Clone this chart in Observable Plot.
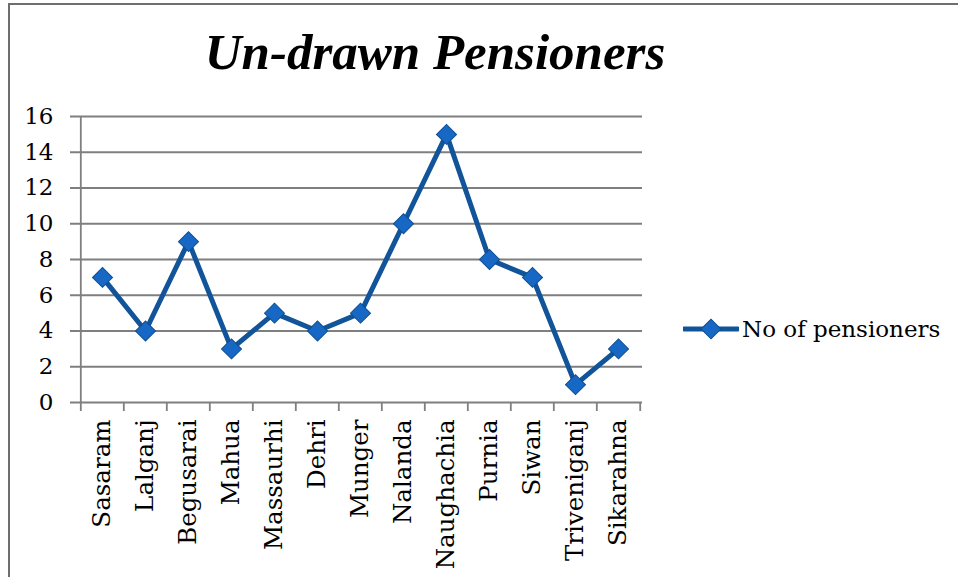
<!DOCTYPE html>
<html><head><meta charset="utf-8">
<script src="https://cdn.jsdelivr.net/npm/d3@7"></script>
<script src="https://cdn.jsdelivr.net/npm/@observablehq/plot@0.6"></script>
<style>
body{margin:0;background:#fff;}
#wrap{position:relative;width:958px;height:577px;overflow:hidden;background:#fff;}
#frame{position:absolute;left:8px;top:3px;right:-6px;bottom:-6px;border-left:2px solid #6e6e6e;border-top:2px solid #6e6e6e;}
#title{position:absolute;left:0;top:22px;width:870px;text-align:center;font:italic bold 51px "Liberation Serif",serif;color:#000;line-height:60px;}
#chart{position:absolute;left:0;top:100px;}
#legend{position:absolute;left:683px;top:316px;display:flex;align-items:center;font:23px "DejaVu Serif",serif;color:#000;}
#legend svg{display:block;margin-right:3px;}
</style></head>
<body>
<div id="wrap">
  <div id="frame"></div>
  <div id="title">Un-drawn Pensioners</div>
  <div id="chart"></div>
  <div id="legend"></div>
</div>
<script>
const categories = ["Sasaram","Lalganj","Begusarai","Mahua","Massaurhi","Dehri","Munger","Nalanda","Naughachia","Purnia","Siwan","Triveniganj","Sikarahna"];
const pensioners = [7,4,9,3,5,4,5,10,15,8,7,1,3];
const yTicks = [0,2,4,6,8,10,12,14,16];
const seriesName = "No of pensioners";

const lineColor = "#11549a";
const markFill = "#1668c4";
const markStroke = "#0f4e92";
const gridColor = "#7f7f7f";

const data = categories.map((c, i) => ({district: c, value: pensioners[i]}));

const W = 958, H = 477, mL = 78, mR = 316;
const step = (W - mL - mR) / categories.length;

const chart = Plot.plot({
  width: W, height: H,
  marginTop: 16, marginBottom: 175, marginLeft: mL, marginRight: mR,
  style: {fontFamily: "DejaVu Serif", fontSize: "23px", color: "#000", background: "transparent", overflow: "visible"},
  x: {type: "point", domain: categories, padding: 0.5, align: 0.5, axis: null},
  y: {domain: [0, 16], axis: null},
  marks: [
    Plot.ruleY(yTicks, {stroke: gridColor, strokeWidth: 1.8, insetLeft: -8}),
    Plot.ruleX([categories[0]], {dx: -step / 2, stroke: gridColor, strokeWidth: 1.8}),
    Plot.axisY({ticks: yTicks, tickSize: 0, tickPadding: 25, fontSize: 23, color: "#000", label: null}),
    Plot.axisX({tickSize: 9, tickFormat: () => "", dx: -step / 2, stroke: gridColor, strokeWidth: 1.8, label: null}),
    Plot.axisX([categories[categories.length - 1]], {tickSize: 9, tickFormat: () => "", dx: step / 2, stroke: gridColor, strokeWidth: 1.8, label: null}),
    Plot.axisX({tickSize: 0, tickPadding: 17, tickRotate: -90, fontSize: 24.5, color: "#000", label: null}),
    Plot.line(data, {x: "district", y: "value", stroke: lineColor, strokeWidth: 5, strokeLinejoin: "round"}),
    Plot.dot(data, {x: "district", y: "value", symbol: "square", r: 8, rotate: 45, fill: markFill, stroke: markStroke, strokeWidth: 1})
  ]
});
document.getElementById("chart").appendChild(chart);

const legend = document.getElementById("legend");
legend.innerHTML = `<svg width="56" height="24"><line x1="1" y1="12" x2="55" y2="12" stroke="${lineColor}" stroke-width="5" stroke-linecap="round"/><rect x="21" y="5" width="14" height="14" transform="rotate(45 28 12)" fill="${markFill}" stroke="${markStroke}" stroke-width="1"/></svg><span>${seriesName}</span>`;
</script>
</body></html>
